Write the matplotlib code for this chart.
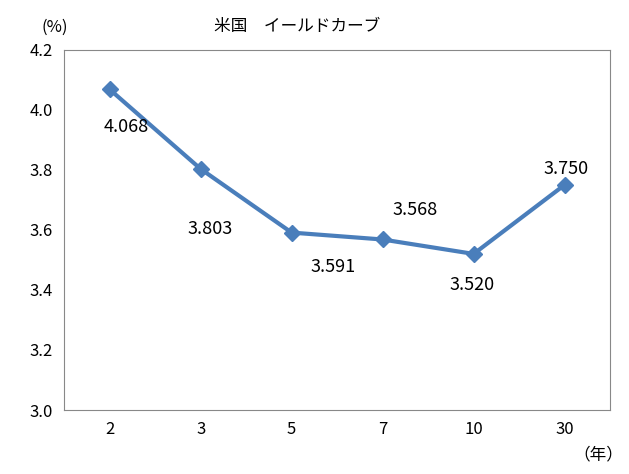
import matplotlib
matplotlib.use("Agg")
import matplotlib.pyplot as plt

plt.rcParams['font.family'] = ['Noto Sans CJK JP', 'DejaVu Sans']

categories = ["2", "3", "5", "7", "10", "30"]
values = [4.068, 3.803, 3.591, 3.568, 3.520, 3.750]
labels = ["4.068", "3.803", "3.591", "3.568", "3.520", "3.750"]
offsets = [(17, -38), (9, -60), (41, -34), (32, 29), (-2, -31), (1, 16)]

fig = plt.figure(figsize=(6.29, 4.74), dpi=100)
ax = fig.add_axes([0.102, 0.135, 0.868, 0.76])
x = list(range(len(categories)))
ax.plot(x, values, color='#4A7EBB', lw=3, marker='D', ms=8)
for xi, v, lab, off in zip(x, values, labels, offsets):
    ax.annotate(lab, (xi, v), xytext=off, textcoords='offset pixels',
                ha='center', va='center', fontsize=13)
ax.set_xlim(-0.5, 5.5)
ax.set_ylim(3.0, 4.2)
ax.set_yticks([3.0, 3.2, 3.4, 3.6, 3.8, 4.0, 4.2])
ax.set_yticklabels(["3.0", "3.2", "3.4", "3.6", "3.8", "4.0", "4.2"])
ax.set_xticks(x)
ax.set_xticklabels(categories)
ax.tick_params(labelsize=12, length=0, pad=8)
for s in ax.spines.values():
    s.set_color('#888888')
fig.text(297/629, 1-27/474, "米国　イールドカーブ", ha='center', va='center', fontsize=12)
fig.text(55/629, 1-27/474, "(%)", ha='center', va='center', fontsize=12)
fig.text(598/629, 1-455/474, "（年）", ha='center', va='center', fontsize=12)
fig.savefig("out.png", dpi=100)
